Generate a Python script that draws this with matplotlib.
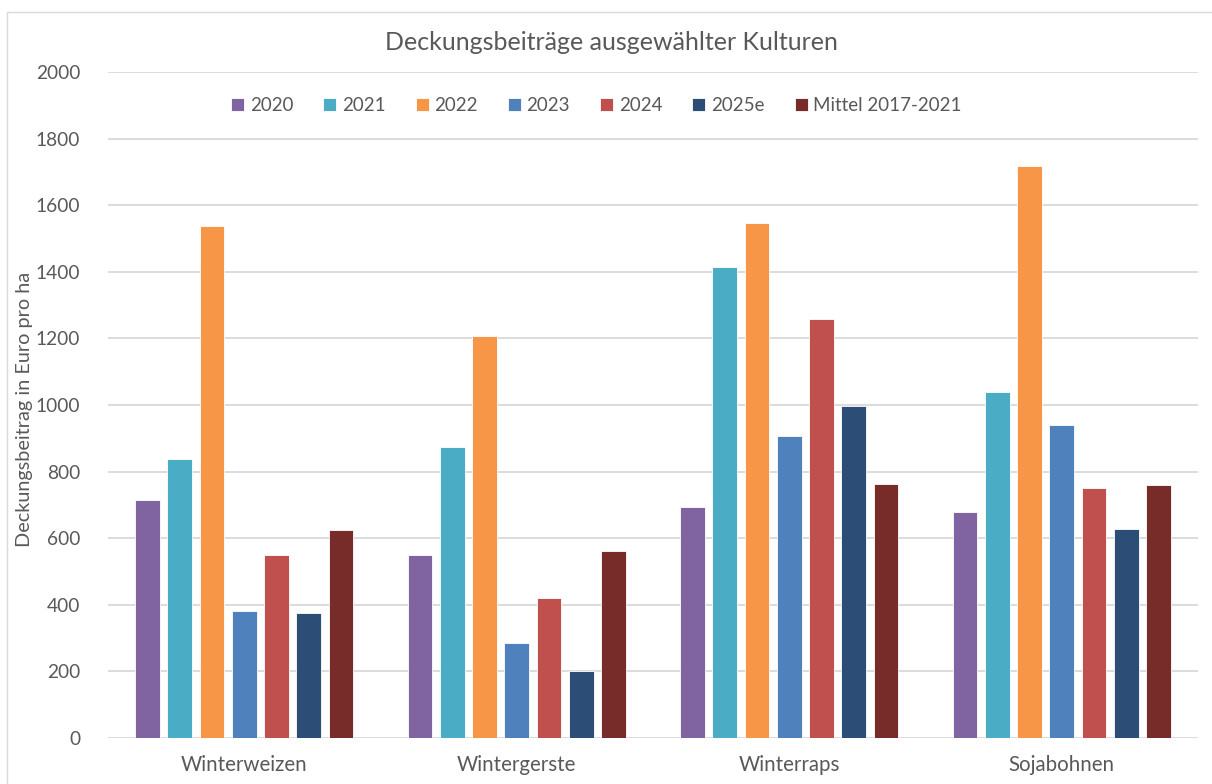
import matplotlib
matplotlib.use("Agg")
import numpy as np
import matplotlib.pyplot as plt
from matplotlib.patches import Rectangle

plt.rcParams['font.family'] = ['Lato', 'DejaVu Sans']

# Data
kulturen = ['Winterweizen', 'Wintergerste', 'Winterraps', 'Sojabohnen']
serien = ['2020', '2021', '2022', '2023', '2024', '2025e', 'Mittel 2017-2021']
werte_2020 = [714, 549, 694, 680]
werte_2021 = [837, 874, 1414, 1038]
werte_2022 = [1538, 1206, 1546, 1718]
werte_2023 = [381, 285, 908, 941]
werte_2024 = [549, 419, 1258, 751]
werte_2025e = [374, 202, 998, 628]
werte_mittel = [624, 561, 763, 759]
yticks = [0, 200, 400, 600, 800, 1000, 1200, 1400, 1600, 1800, 2000]

farben = ['#8064A2', '#4BACC6', '#F79646', '#4F81BD', '#C0504D', '#2C4D75', '#772C2A']
alle_werte = [werte_2020, werte_2021, werte_2022, werte_2023, werte_2024, werte_2025e, werte_mittel]

W, H = 1212, 784
fig = plt.figure(figsize=(W / 100, H / 100), dpi=100)
fig.patch.set_facecolor('white')

# thin chart border like the Excel frame
fig.patches.append(Rectangle((7 / W, -0.01), 1.02, 1 - 12 / H + 0.01, transform=fig.transFigure,
                             fill=False, edgecolor='#D9D9D9', linewidth=1.0))

ax = fig.add_axes([108 / W, 1 - 738 / H, 1090 / W, 666 / H])

x = np.arange(len(kulturen))
slot = 0.1185
width = 0.0906
for i, (name, werte, farbe) in enumerate(zip(serien, alle_werte, farben)):
    ax.bar(x + (i - 3) * slot, werte, width, color=farbe, label=name,
           edgecolor='white', linewidth=0.6, zorder=3)

ax.set_xlim(-0.5, len(kulturen) - 0.5)
ax.set_ylim(0, 2000)
ax.set_yticks(yticks)
ax.set_yticklabels([str(v) for v in yticks])
ax.set_xticks(x)
ax.set_xticklabels(kulturen)
ax.grid(axis='y', color='#D9D9D9', linewidth=1.3, zorder=0)
for s in ax.spines.values():
    s.set_visible(False)
ax.tick_params(axis='both', length=0, labelsize=13.8, labelcolor='#595959')
ax.tick_params(axis='x', labelsize=14.8, pad=12)
ax.tick_params(axis='y', pad=20)

leg = ax.legend(loc='center', bbox_to_anchor=(0.448, 0.95), ncol=7, frameon=False,
                fontsize=13.5, handlelength=0.7, handleheight=0.7, handletextpad=0.3,
                columnspacing=1.6, labelcolor='#595959')

fig.text(611 / W, 1 - 42 / H, 'Deckungsbeiträge ausgewählter Kulturen', ha='center', va='center',
         fontsize=18, color='#595959')
fig.text(25 / W, 1 - 409 / H, 'Deckungsbeitrag in Euro pro ha', rotation=90, ha='center', va='center',
         fontsize=14.3, color='#595959')

fig.savefig('out.png', dpi=100)
